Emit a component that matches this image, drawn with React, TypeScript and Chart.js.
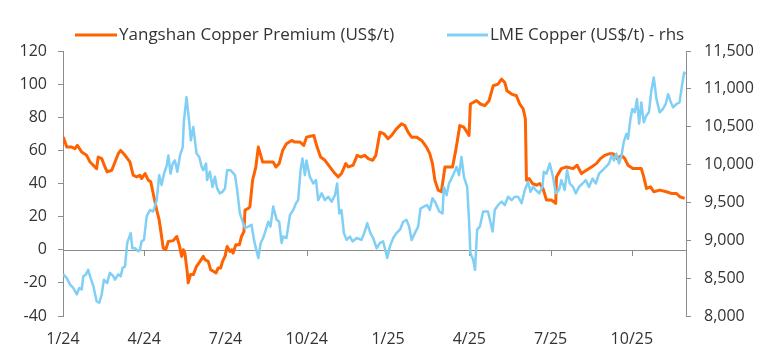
import React, { useEffect, useRef } from 'react';
import { Chart, registerables } from 'chart.js';

Chart.register(...registerables);

// x positions are months since Jan 2024
const quarterMonths = [0, 3, 6, 9, 12, 15, 18, 21];
const quarterLabels = ['1/24', '4/24', '7/24', '10/24', '1/25', '4/25', '7/25', '10/25'];

const premiumLabel = 'Yangshan Copper Premium (US$/t)';
const lmeLabel = 'LME Copper (US$/t) - rhs';

const premiumMonths = [
  0.01, 0.14, 0.32, 0.44, 0.53, 0.69, 0.87, 1.0, 1.24, 1.3, 1.43, 1.55, 1.63, 1.8, 1.92, 2.04, 2.13, 2.29, 2.47, 2.59,
  2.72, 2.84, 2.9, 3.03, 3.15, 3.24, 3.33, 3.46, 3.55, 3.64, 3.7, 3.79, 3.89, 4.07, 4.2, 4.29, 4.38, 4.44, 4.5, 4.59,
  4.62, 4.71, 4.81, 4.93, 5.06, 5.18, 5.24, 5.36, 5.45, 5.55, 5.65, 5.73, 5.82, 5.89, 5.98, 6.06, 6.16, 6.23, 6.28, 6.38,
  6.51, 6.59, 6.68, 6.72, 6.84, 6.9, 7.0, 7.12, 7.21, 7.3, 7.37, 7.76, 7.86, 7.98, 8.11, 8.25, 8.44, 8.56, 8.75, 8.89,
  8.99, 9.26, 9.38, 9.51, 9.67, 9.85, 10.04, 10.16, 10.28, 10.44, 10.53, 10.71, 10.86, 10.99, 11.14, 11.27, 11.43, 11.55, 11.7, 11.85,
  12.0, 12.13, 12.31, 12.5, 12.62, 12.74, 12.87, 13.05, 13.24, 13.42, 13.54, 13.64, 13.73, 13.85, 13.97, 14.1, 14.38, 14.5, 14.65, 14.8,
  14.99, 15.04, 15.27, 15.41, 15.57, 15.73, 15.88, 16.06, 16.19, 16.31, 16.39, 16.56, 16.74, 16.86, 16.99, 17.07, 17.11, 17.21, 17.33, 17.48,
  17.6, 17.72, 17.85, 18.03, 18.19, 18.22, 18.4, 18.59, 18.83, 18.98, 19.14, 19.32, 19.51, 19.69, 19.84, 20.0, 20.18, 20.31, 20.45, 20.62,
  20.74, 20.86, 21.04, 21.23, 21.35, 21.44, 21.54, 21.69, 21.81, 22.03, 22.28, 22.46, 22.65, 22.77, 22.95,
];
const premiumValues = [
  68, 62, 62, 61, 63, 59, 57, 53, 49, 56, 55, 50, 47, 48, 53, 58, 60, 57, 53, 45,
  44, 45, 43, 46, 42, 41, 34, 24, 18, 8, 1, 0, 5, 5.5, 8, 3, -4, 0, -2, -14,
  -20, -15, -15, -10, -7, -4, -6, -7, -12, -13, -14, -11, -11, -7, -4, 2, -1, 0, -2, 3,
  3, 8, 11, 24, 25, 26, 42, 50, 62, 57, 53, 53, 50, 52, 60, 64, 66, 65, 65, 63,
  68, 69, 62, 56, 54, 50, 46, 44, 46, 52, 50, 51, 57, 56, 57, 55, 54, 57, 71, 70,
  67, 69, 73, 76, 75, 71, 68, 68, 66, 62, 58, 52, 42, 36, 35, 50, 50, 60, 75, 74,
  69, 88, 90, 88, 87, 90, 99, 100, 103, 101, 96, 94, 93, 88, 85, 79, 42, 43, 40, 39,
  40, 37, 30, 30, 28, 44, 49, 50, 49, 51, 46, 48, 50, 52, 55, 57, 58, 58, 55, 57,
  55, 51, 49, 49, 49, 44, 37, 38, 35, 36, 35, 34, 34, 32, 31,
];

const lmeMonths = [
  0.01, 0.14, 0.26, 0.38, 0.51, 0.6, 0.69, 0.75, 0.85, 0.93, 1.02, 1.12, 1.24, 1.34, 1.43, 1.51, 1.63, 1.73, 1.86, 1.92,
  2.04, 2.13, 2.2, 2.29, 2.37, 2.5, 2.56, 2.66, 2.78, 2.84, 2.9, 2.99, 3.09, 3.21, 3.33, 3.46, 3.55, 3.64, 3.73, 3.83,
  3.89, 3.97, 4.05, 4.13, 4.22, 4.32, 4.42, 4.46, 4.56, 4.66, 4.72, 4.81, 4.93, 5.03, 5.12, 5.18, 5.28, 5.32, 5.42, 5.52,
  5.61, 5.69, 5.79, 5.89, 5.98, 6.06, 6.19, 6.35, 6.43, 6.53, 6.63, 6.72, 6.84, 6.96, 7.05, 7.21, 7.3, 7.39, 7.49, 7.58,
  7.66, 7.76, 7.89, 7.98, 8.07, 8.13, 8.25, 8.38, 8.5, 8.6, 8.68, 8.77, 8.84, 8.93, 8.99, 9.11, 9.24, 9.34, 9.42, 9.55,
  9.67, 9.79, 9.92, 10.04, 10.12, 10.2, 10.28, 10.37, 10.47, 10.59, 10.69, 10.84, 11.02, 11.14, 11.23, 11.35, 11.45, 11.58, 11.7, 11.82,
  11.97, 12.07, 12.19, 12.31, 12.44, 12.56, 12.68, 12.78, 12.87, 12.99, 13.11, 13.2, 13.32, 13.44, 13.54, 13.64, 13.76, 13.89, 14.01, 14.06,
  14.16, 14.25, 14.4, 14.53, 14.62, 14.71, 14.8, 14.92, 14.99, 15.04, 15.14, 15.21, 15.29, 15.39, 15.51, 15.69, 15.86, 15.94, 16.06, 16.19,
  16.31, 16.43, 16.56, 16.68, 16.8, 16.93, 17.05, 17.17, 17.26, 17.35, 17.45, 17.58, 17.7, 17.75, 17.85, 17.97, 18.09, 18.19, 18.31, 18.4,
  18.52, 18.61, 18.71, 18.83, 18.93, 19.05, 19.18, 19.3, 19.42, 19.55, 19.67, 19.79, 19.92, 20.04, 20.16, 20.25, 20.34, 20.43, 20.53, 20.62,
  20.7, 20.8, 20.86, 20.95, 21.02, 21.11, 21.19, 21.27, 21.35, 21.44, 21.54, 21.63, 21.72, 21.81, 21.91, 22.03, 22.15, 22.25, 22.34, 22.42,
  22.52, 22.65, 22.76, 22.85, 22.93, 22.99,
];
const lmeValues = [
  8550, 8500, 8415, 8370, 8285, 8370, 8350, 8525, 8550, 8610, 8500, 8395, 8195, 8175, 8285, 8480, 8435, 8570, 8525, 8480,
  8550, 8525, 8635, 8655, 8965, 9095, 8895, 8895, 8855, 8875, 8985, 9005, 9315, 9400, 9380, 9530, 9860, 9730, 9880, 9990,
  10120, 9880, 10015, 10055, 9905, 10120, 10230, 10560, 10890, 10560, 10320, 10495, 10145, 10100, 9970, 9925, 10015, 9795, 9905, 9705,
  9840, 9685, 9620, 9640, 9685, 9925, 9925, 9860, 9665, 9355, 9245, 9160, 9180, 9205, 9005, 8765, 8965, 9030, 9140, 9245,
  9180, 9445, 9270, 9245, 8965, 9050, 9030, 9335, 9400, 9490, 9530, 9925, 10080, 9860, 10055, 9840, 9750, 9795, 9530, 9620,
  9530, 9575, 9510, 9595, 9750, 9355, 9400, 9095, 9005, 9050, 8985, 9030, 9005, 9115, 9225, 9095, 9030, 8895, 8965, 8985,
  8765, 8920, 9030, 9095, 9140, 9245, 9270, 9180, 9005, 9095, 9180, 9420, 9445, 9465, 9400, 9555, 9490, 9380, 9355, 9705,
  9595, 9750, 9860, 9970, 9860, 10100, 9840, 9705, 9270, 8830, 8745, 8610, 9140, 9180, 9380, 9380, 9115, 9400, 9465, 9510,
  9465, 9575, 9530, 9575, 9575, 9490, 9665, 9770, 9640, 9705, 9665, 9620, 9705, 9905, 9880, 10015, 9840, 9620, 9665, 9795,
  9665, 9925, 9750, 9705, 9620, 9705, 9750, 9795, 9705, 9815, 9750, 9880, 9925, 9970, 10015, 10120, 10055, 10145, 10015, 10120,
  10295, 10405, 10340, 10605, 10735, 10690, 10865, 10540, 10820, 10560, 10650, 10690, 10975, 11150, 10865, 10690, 10735, 10800, 10930, 10845,
  10755, 10800, 10820, 11040, 11215, 11195,
];

const ORANGE = '#FF6200';
const BLUE = '#80CFF5';
const AXIS = '#8c8c8c';
const TEXT = '#333333';
const FONT = '"Open Sans", Lato, sans-serif';

const customPlugin = {
  id: 'ingDecor',
  beforeDatasetsDraw(chart: any) {
    const { ctx } = chart;
    const x = chart.scales.x;
    const y = chart.scales.y;
    const y0 = y.getPixelForValue(0);
    ctx.save();
    ctx.strokeStyle = AXIS;
    ctx.lineWidth = 1;
    ctx.beginPath();
    ctx.moveTo(chart.chartArea.left, Math.round(y0) + 0.5);
    ctx.lineTo(chart.chartArea.right, Math.round(y0) + 0.5);
    quarterMonths.forEach((m) => {
      const px = Math.round(x.getPixelForValue(m)) + 0.5;
      ctx.moveTo(px, Math.round(y0) + 0.5);
      ctx.lineTo(px, Math.round(y0) + 6);
    });
    ctx.stroke();
    ctx.restore();
  },
  afterDraw(chart: any) {
    const { ctx } = chart;
    ctx.save();
    ctx.font = '17px ' + FONT;
    ctx.fillStyle = TEXT;
    ctx.textBaseline = 'middle';
    const items = [
      { color: ORANGE, text: chart.data.datasets[0].label, x0: 75, x1: 117 },
      { color: BLUE, text: chart.data.datasets[1].label, x0: 447, x1: 488 },
    ];
    items.forEach((it) => {
      ctx.strokeStyle = it.color;
      ctx.lineWidth = 3;
      ctx.beginPath();
      ctx.moveTo(it.x0, 35);
      ctx.lineTo(it.x1, 35);
      ctx.stroke();
      ctx.fillText(it.text, it.x1 + 2, 35);
    });
    ctx.restore();
  },
};

export default function App() {
  const ref = useRef<HTMLCanvasElement | null>(null);

  useEffect(() => {
    if (!ref.current) return;
    const chart = new Chart(ref.current, {
      type: 'line',
      data: {
        datasets: [
          {
            label: premiumLabel,
            data: premiumMonths.map((m, i) => ({ x: m, y: premiumValues[i] })),
            borderColor: ORANGE,
            backgroundColor: ORANGE,
            borderWidth: 3,
            pointRadius: 0,
            tension: 0,
            yAxisID: 'y',
            order: 1,
            borderJoinStyle: 'round',
          },
          {
            label: lmeLabel,
            data: lmeMonths.map((m, i) => ({ x: m, y: lmeValues[i] })),
            borderColor: BLUE,
            backgroundColor: BLUE,
            borderWidth: 2.5,
            pointRadius: 0,
            tension: 0,
            yAxisID: 'y1',
            order: 0,
            borderJoinStyle: 'round',
          },
        ],
      },
      options: {
        animation: false,
        responsive: true,
        maintainAspectRatio: false,
        layout: { padding: { left: 0, right: 0, top: 51, bottom: 0 } },
        plugins: {
          legend: { display: false },
          tooltip: { enabled: false },
        },
        scales: {
          x: {
            type: 'linear',
            min: 0,
            max: 23,
            afterBuildTicks: (scale: any) => {
              scale.ticks = quarterMonths.map((v) => ({ value: v }));
            },
            afterFit: (scale: any) => {
              scale.height = 38;
            },
            grid: { display: false, drawTicks: false },
            border: { display: false },
            ticks: {
              autoSkip: false,
              maxRotation: 0,
              padding: 14,
              color: TEXT,
              font: { family: FONT, size: 16 },
              callback: (v: any) => {
                const i = quarterMonths.indexOf(Number(v));
                return i >= 0 ? quarterLabels[i] : '';
              },
            },
          },
          y: {
            type: 'linear',
            position: 'left',
            min: -40,
            max: 120,
            afterFit: (scale: any) => {
              scale.width = 63;
            },
            grid: {
              drawOnChartArea: false,
              drawTicks: true,
              tickLength: 5,
              tickColor: AXIS,
            },
            border: { display: true, color: AXIS, width: 1 },
            ticks: {
              stepSize: 20,
              padding: 11,
              color: TEXT,
              font: { family: FONT, size: 16 },
            },
          },
          y1: {
            type: 'linear',
            position: 'right',
            min: 8000,
            max: 11500,
            afterFit: (scale: any) => {
              scale.width = 83;
            },
            grid: {
              drawOnChartArea: false,
              drawTicks: true,
              tickLength: 5,
              tickColor: AXIS,
            },
            border: { display: true, color: AXIS, width: 1 },
            ticks: {
              stepSize: 500,
              padding: 13,
              color: TEXT,
              font: { family: FONT, size: 16 },
              callback: (v: any) => Number(v).toLocaleString('en-US'),
            },
          },
        },
      },
      plugins: [customPlugin],
    });
    return () => chart.destroy();
  }, []);

  return (
    <div style={{ position: 'fixed', left: 0, top: 0, width: 769, height: 354, background: '#fff' }}>
      <canvas ref={ref} />
    </div>
  );
}
